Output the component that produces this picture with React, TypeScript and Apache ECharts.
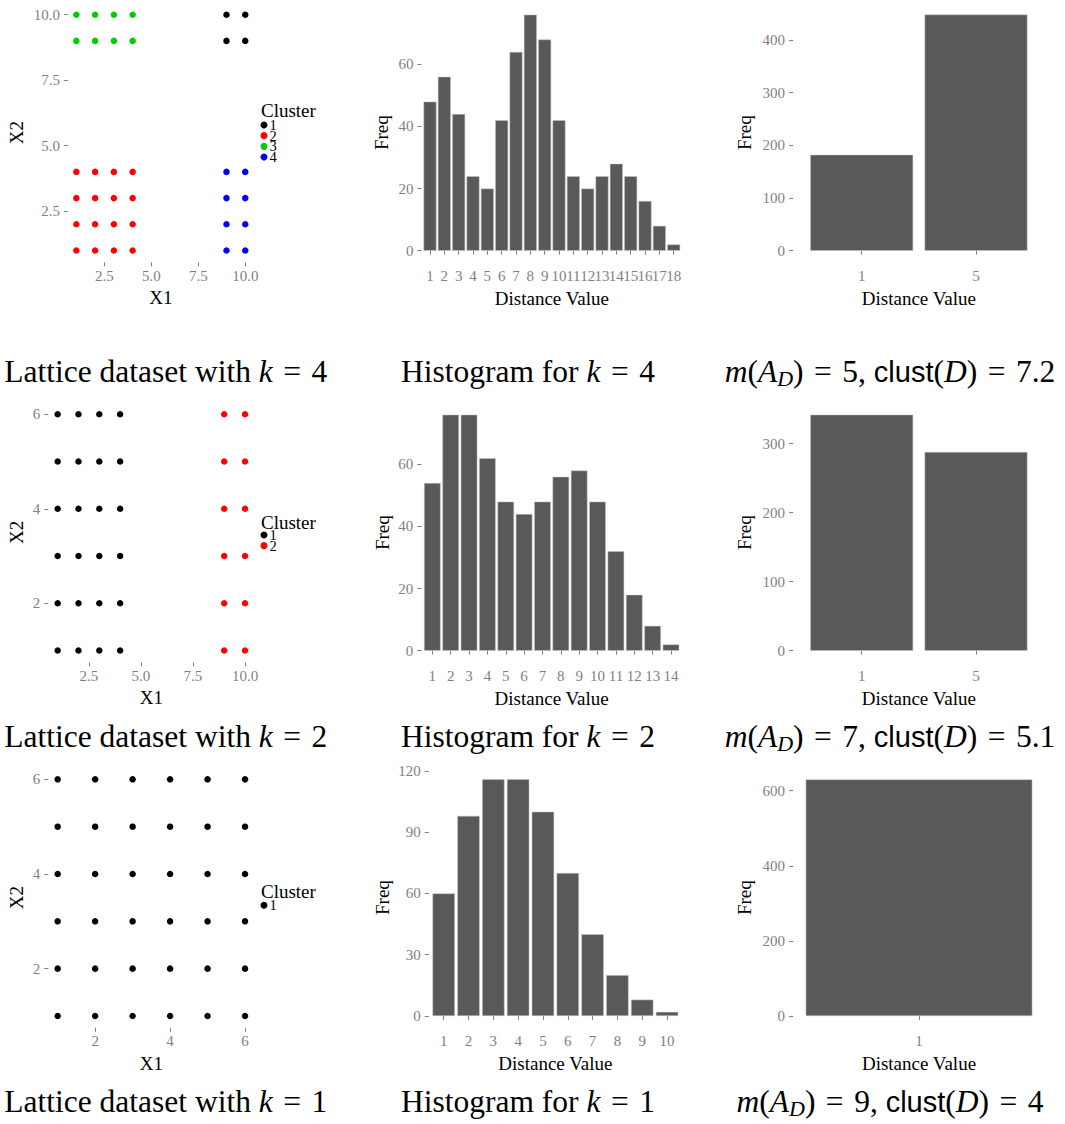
import React, { useEffect, useRef } from "react";
import * as echarts from "echarts";

// ---------------- DATA ----------------
const CLUSTER_COLORS = ["#000000", "#FF0000", "#00CD00", "#0000FF"];

// Lattice k = 4
const k4Cluster1: number[][] = [[9, 9], [10, 9], [9, 10], [10, 10]];
const k4Cluster2: number[][] = [
  [1, 1], [2, 1], [3, 1], [4, 1], [1, 2], [2, 2], [3, 2], [4, 2],
  [1, 3], [2, 3], [3, 3], [4, 3], [1, 4], [2, 4], [3, 4], [4, 4],
];
const k4Cluster3: number[][] = [[1, 9], [2, 9], [3, 9], [4, 9], [1, 10], [2, 10], [3, 10], [4, 10]];
const k4Cluster4: number[][] = [[9, 1], [10, 1], [9, 2], [10, 2], [9, 3], [10, 3], [9, 4], [10, 4]];

// Lattice k = 2
const k2Cluster1: number[][] = [
  [1, 1], [2, 1], [3, 1], [4, 1], [1, 2], [2, 2], [3, 2], [4, 2],
  [1, 3], [2, 3], [3, 3], [4, 3], [1, 4], [2, 4], [3, 4], [4, 4],
  [1, 5], [2, 5], [3, 5], [4, 5], [1, 6], [2, 6], [3, 6], [4, 6],
];
const k2Cluster2: number[][] = [
  [9, 1], [10, 1], [9, 2], [10, 2], [9, 3], [10, 3],
  [9, 4], [10, 4], [9, 5], [10, 5], [9, 6], [10, 6],
];

// Lattice k = 1
const k1Cluster1: number[][] = [
  [1, 1], [2, 1], [3, 1], [4, 1], [5, 1], [6, 1],
  [1, 2], [2, 2], [3, 2], [4, 2], [5, 2], [6, 2],
  [1, 3], [2, 3], [3, 3], [4, 3], [5, 3], [6, 3],
  [1, 4], [2, 4], [3, 4], [4, 4], [5, 4], [6, 4],
  [1, 5], [2, 5], [3, 5], [4, 5], [5, 5], [6, 5],
  [1, 6], [2, 6], [3, 6], [4, 6], [5, 6], [6, 6],
];

// Histograms of distance values
const k4DistCats = ["1", "2", "3", "4", "5", "6", "7", "8", "9", "10", "11", "12", "13", "14", "15", "16", "17", "18"];
const k4DistFreq = [48, 56, 44, 24, 20, 42, 64, 76, 68, 42, 24, 20, 24, 28, 24, 16, 8, 2];
const k2DistCats = ["1", "2", "3", "4", "5", "6", "7", "8", "9", "10", "11", "12", "13", "14"];
const k2DistFreq = [54, 76, 76, 62, 48, 44, 48, 56, 58, 48, 32, 18, 8, 2];
const k1DistCats = ["1", "2", "3", "4", "5", "6", "7", "8", "9", "10"];
const k1DistFreq = [60, 98, 116, 116, 100, 70, 40, 20, 8, 2];

// Aggregated distance values
const k4AggCats = ["1", "5"];
const k4AggFreq = [182, 448];
const k2AggCats = ["1", "5"];
const k2AggFreq = [342, 288];
const k1AggCats = ["1"];
const k1AggFreq = [630];

// Tick labels
const ticksK4Scatter = [2.5, 5, 7.5, 10];
const ticksK2ScatterX = [2.5, 5, 7.5, 10];
const ticksK2ScatterY = [2, 4, 6];
const ticksK1Scatter = [2, 4, 6];
const ticksK4Hist = [0, 20, 40, 60];
const ticksK2Hist = [0, 20, 40, 60];
const ticksK1Hist = [0, 30, 60, 90, 120];
const ticksK4Agg = [0, 100, 200, 300, 400];
const ticksK2Agg = [0, 100, 200, 300];
const ticksK1Agg = [0, 200, 400, 600];

// Captions (k, m(A_D), clust(D))
const captionK = ["4", "2", "1"];
const captionM = ["5", "7", "9"];
const captionClust = ["7.2", "5.1", "4"];

// ---------------- STYLE ----------------
const SERIF = "'Liberation Serif', 'Times New Roman', serif";
const SANS = "'Liberation Sans', Arial, sans-serif";
const GREY = "#7f7f7f";
const BAR_FILL = "#595959";
const EQ = "\u2004=\u2004";

type Rect = { l: number; r: number; t: number; b: number };

function expandRange(vals: number[], mult = 0.05): [number, number] {
  const mn = Math.min(...vals);
  const mx = Math.max(...vals);
  const d = (mx - mn) * mult;
  return [mn - d, mx + d];
}

function axisBase(name: string, nameGap: number) {
  return {
    name,
    nameLocation: "middle",
    nameGap,
    nameMoveOverlap: false,
    nameTextStyle: { color: "#000", fontSize: 19, fontFamily: SERIF },
    axisLine: { show: false },
    splitLine: { show: false },
  };
}

function addScatter(
  opt: any,
  rect: Rect,
  clusters: { name: string; color: string; pts: number[][] }[],
  xTicks: number[],
  yTicks: number[],
  xDec: number,
  yDec: number,
  yNameGap: number
) {
  const gi = opt.grid.length;
  opt.grid.push({ left: rect.l, top: rect.t, width: rect.r - rect.l, height: rect.b - rect.t });
  const allX = clusters.flatMap((c) => c.pts.map((p) => p[0]));
  const allY = clusters.flatMap((c) => c.pts.map((p) => p[1]));
  const [x0, x1] = expandRange(allX);
  const [y0, y1] = expandRange(allY);
  opt.xAxis.push({
    type: "value",
    gridIndex: gi,
    min: x0,
    max: x1,
    ...axisBase("X1", 26),
    axisTick: { show: true, length: 4, customValues: xTicks, lineStyle: { color: GREY, width: 1 } },
    axisLabel: {
      customValues: xTicks,
      color: GREY,
      fontSize: 15,
      fontFamily: SERIF,
      margin: 6,
      formatter: (v: number) => v.toFixed(xDec),
    },
  });
  opt.yAxis.push({
    type: "value",
    gridIndex: gi,
    min: y0,
    max: y1,
    ...axisBase("X2", yNameGap),
    axisTick: { show: true, length: 4, customValues: yTicks, lineStyle: { color: GREY, width: 1 } },
    axisLabel: {
      customValues: yTicks,
      color: GREY,
      fontSize: 15,
      fontFamily: SERIF,
      margin: 8,
      formatter: (v: number) => v.toFixed(yDec),
    },
  });
  clusters.forEach((c) => {
    opt.series.push({
      type: "scatter",
      name: c.name,
      xAxisIndex: gi,
      yAxisIndex: gi,
      data: c.pts,
      symbol: "circle",
      symbolSize: 6.5,
      itemStyle: { color: c.color, opacity: 1 },
    });
  });
}

// expand: discrete-scale expansion on each side, in category units
function addBars(
  opt: any,
  rect: Rect,
  cats: string[],
  vals: number[],
  yTicks: number[],
  yNameGap: number,
  expand: number
) {
  const gi = opt.grid.length;
  const band = (rect.r - rect.l) / (cats.length - 1 + 2 * expand);
  const pad = (expand - 0.5) * band;
  opt.grid.push({ left: rect.l + pad, top: rect.t, width: band * cats.length, height: rect.b - rect.t });
  const [y0, y1] = expandRange([0, ...vals]);
  opt.xAxis.push({
    type: "category",
    gridIndex: gi,
    data: cats,
    ...axisBase("Distance Value", 26),
    axisTick: { show: true, length: 4, alignWithLabel: true, interval: 0, lineStyle: { color: GREY, width: 1 } },
    axisLabel: { interval: 0, color: GREY, fontSize: 15, fontFamily: SERIF, margin: 6 },
  });
  opt.yAxis.push({
    type: "value",
    gridIndex: gi,
    min: y0,
    max: y1,
    offset: pad,
    ...axisBase("Freq", yNameGap),
    axisTick: { show: true, length: 4, customValues: yTicks, lineStyle: { color: GREY, width: 1 } },
    axisLabel: { customValues: yTicks, color: GREY, fontSize: 15, fontFamily: SERIF, margin: 8 },
  });
  opt.series.push({
    type: "bar",
    name: "Freq",
    xAxisIndex: gi,
    yAxisIndex: gi,
    data: vals,
    barWidth: "90%",
    itemStyle: { color: BAR_FILL, borderColor: "#c4c4c4", borderWidth: 0.5 },
  });
}

function legendBlock(names: string[], firstCenterY: number) {
  const fs = 14.5;
  return {
    show: true,
    orient: "vertical",
    left: 260.5,
    top: firstCenterY - fs / 2,
    padding: 0,
    itemWidth: 7,
    itemHeight: 7,
    itemGap: 10.2 - fs,
    icon: "circle",
    selectedMode: false,
    data: names,
    textStyle: { fontFamily: SERIF, fontSize: fs, color: "#000", padding: [0, 0, 0, -3] },
  };
}

function captionRich() {
  return {
    r: { fontFamily: SERIF, fontSize: 31.5, fill: "#000" },
    i: { fontFamily: SERIF, fontSize: 31.5, fontStyle: "italic", fill: "#000" },
    sub: { fontFamily: SERIF, fontSize: 22, fontStyle: "italic", fill: "#000", padding: [13, 0, 0, 0] },
    s: { fontFamily: SANS, fontSize: 29, fill: "#000" },
  };
}

function buildOption() {
  const opt: any = {
    animation: false,
    backgroundColor: "#ffffff",
    grid: [],
    xAxis: [],
    yAxis: [],
    series: [],
    legend: [],
    graphic: [],
  };

  // Row 1 (k = 4)
  addScatter(
    opt,
    { l: 67.9, r: 253.7, t: 2.9, b: 262.3 },
    [
      { name: "1", color: CLUSTER_COLORS[0], pts: k4Cluster1 },
      { name: "2", color: CLUSTER_COLORS[1], pts: k4Cluster2 },
      { name: "3", color: CLUSTER_COLORS[2], pts: k4Cluster3 },
      { name: "4", color: CLUSTER_COLORS[3], pts: k4Cluster4 },
    ],
    ticksK4Scatter, ticksK4Scatter, 1, 1, 42
  );
  addBars(opt, { l: 421.4, r: 682.3, t: 2.9, b: 262.5 }, k4DistCats, k4DistFreq, ticksK4Hist, 30, 0.6);
  addBars(opt, { l: 793.1, r: 1044.6, t: 2.8, b: 262.5 }, k4AggCats, k4AggFreq, ticksK4Agg, 39.4, 0.6);

  // Row 2 (k = 2)
  addScatter(
    opt,
    { l: 48.3, r: 254.4, t: 402.5, b: 662.3 },
    [
      { name: "1", color: CLUSTER_COLORS[0], pts: k2Cluster1 },
      { name: "2", color: CLUSTER_COLORS[1], pts: k2Cluster2 },
    ],
    ticksK2ScatterX, ticksK2ScatterY, 1, 0, 22
  );
  addBars(opt, { l: 421.3, r: 682.0, t: 402.9, b: 662.5 }, k2DistCats, k2DistFreq, ticksK2Hist, 29.8, 0.6);
  addBars(opt, { l: 793.1, r: 1044.6, t: 402.9, b: 662.5 }, k2AggCats, k2AggFreq, ticksK2Agg, 39.4, 0.6);

  // Row 3 (k = 1)
  addScatter(
    opt,
    { l: 48.3, r: 254.4, t: 767.5, b: 1027.8 },
    [{ name: "1", color: CLUSTER_COLORS[0], pts: k1Cluster1 }],
    ticksK1Scatter, ticksK1Scatter, 0, 0, 22
  );
  addBars(opt, { l: 428.8, r: 681.9, t: 767.3, b: 1027.8 }, k1DistCats, k1DistFreq, ticksK1Hist, 37.3, 0.6);
  addBars(opt, { l: 793.1, r: 1044.9, t: 767.6, b: 1027.8 }, k1AggCats, k1AggFreq, ticksK1Agg, 39.4, 0.5);

  // Legends
  opt.legend.push(legendBlock(["1", "2", "3", "4"], 124.7));
  opt.legend.push(legendBlock(["1", "2"], 534.7));
  opt.legend.push(legendBlock(["1"], 905));

  const legendTitleY = [110.4, 522, 891.8];
  legendTitleY.forEach((y) => {
    opt.graphic.push({
      type: "text",
      x: 261,
      y,
      style: { text: "Cluster", fontFamily: SERIF, fontSize: 19, fill: "#000", align: "left", verticalAlign: "middle" },
    });
  });

  // Captions
  const rowY = [371.7, 736.7, 1101.7];
  rowY.forEach((y, i) => {
    opt.graphic.push({
      type: "text",
      x: 165.8,
      y,
      style: {
        text: `{r|Lattice dataset with }{i|k}{r|${EQ}${captionK[i]}}`,
        align: "center",
        verticalAlign: "middle",
        rich: captionRich(),
      },
    });
    opt.graphic.push({
      type: "text",
      x: 528,
      y,
      style: {
        text: `{r|Histogram for }{i|k}{r|${EQ}${captionK[i]}}`,
        align: "center",
        verticalAlign: "middle",
        rich: captionRich(),
      },
    });
    opt.graphic.push({
      type: "text",
      x: 890,
      y,
      style: {
        text: `{i|m}{r|(}{i|A}{sub|D}{r|)${EQ}${captionM[i]}, }{s|clust}{r|(}{i|D}{r|)${EQ}${captionClust[i]}}`,
        align: "center",
        verticalAlign: "middle",
        rich: captionRich(),
      },
    });
  });

  return opt;
}

export default function App() {
  const ref = useRef<HTMLDivElement>(null);
  useEffect(() => {
    if (!ref.current) return;
    const chart = echarts.init(ref.current, null, { renderer: "svg" });
    chart.setOption(buildOption());
    return () => chart.dispose();
  }, []);
  return (
    <div
      ref={ref}
      style={{ position: "absolute", left: 0, top: 0, width: 1065, height: 1124, background: "#fff" }}
    />
  );
}
